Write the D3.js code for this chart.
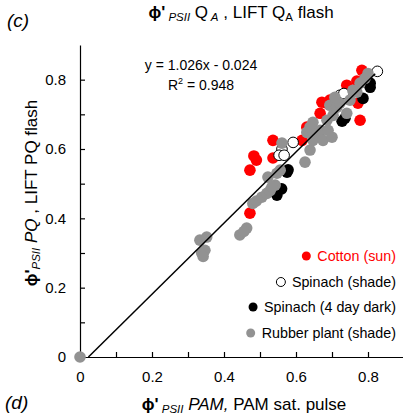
<!DOCTYPE html>
<html><head><meta charset="utf-8">
<script src="https://cdn.jsdelivr.net/npm/d3@7"></script>
<style>body{margin:0;background:#fff}svg{display:block;font-family:"Liberation Sans",Arial,sans-serif}</style>
</head><body>
<script>
const cottonX=[0.783,0.741,0.769,0.778,0.772,0.686,0.694,0.672,0.667,0.63,0.617,0.536,0.536,0.49,0.483,0.472,0.472];
const cottonY=[0.827,0.784,0.796,0.683,0.732,0.732,0.741,0.735,0.703,0.663,0.625,0.625,0.574,0.568,0.58,0.539,0.415];
const shadeX=[0.826,0.722,0.711,0.733,0.592,0.561,0.553,0.567];
const shadeY=[0.824,0.755,0.746,0.76,0.619,0.6,0.582,0.582];
const darkX=[0.806,0.806,0.786,0.736,0.728,0.578,0.575,0.56,0.547];
const darkY=[0.778,0.79,0.746,0.689,0.68,0.54,0.533,0.485,0.467];
const rubberX=[0,0.333,0.352,0.338,0.347,0.342,0.444,0.463,0.455,0.48,0.49,0.505,0.519,0.528,0.542,0.533,0.522,0.547,0.556,0.561,0.625,0.63,0.639,0.647,0.647,0.639,0.658,0.667,0.675,0.689,0.7,0.686,0.703,0.694,0.713,0.722,0.741,0.75,0.708,0.758,0.769,0.778,0.792,0.8];
const rubberY=[0,0.337,0.346,0.3,0.308,0.29,0.352,0.372,0.362,0.443,0.45,0.461,0.472,0.48,0.496,0.49,0.519,0.53,0.539,0.617,0.562,0.648,0.597,0.625,0.677,0.663,0.645,0.654,0.625,0.654,0.634,0.683,0.697,0.726,0.72,0.732,0.703,0.741,0.749,0.769,0.764,0.79,0.804,0.818];
const tickValues=[0,0.1,0.2,0.3,0.4,0.5,0.6,0.7,0.8];
const tickLabels=["0","","0.2","","0.4","","0.6","","0.8"];
const fitSlope=1.026, fitIntercept=-0.024, fitX=[0.0234,0.82];
const legendLabels=["Cotton (sun)","Spinach (shade)","Spinach (4 day dark)","Rubber plant (shade)"];

const W=403,H=414;
const svg=d3.select("body").append("svg").attr("width",W).attr("height",H);
const x=d3.scaleLinear().domain([0,0.9]).range([80,404]);
const y=d3.scaleLinear().domain([0,0.9]).range([357,45]);

// axes
const xAxis=d3.axisBottom(x).tickValues(tickValues).tickSizeInner(-5).tickSizeOuter(0).tickPadding(14).tickFormat((d,i)=>tickLabels[i]);
const gx=svg.append("g").attr("transform","translate(0,357)").call(xAxis);
const yAxis=d3.axisLeft(y).tickValues(tickValues).tickSizeInner(-5).tickSizeOuter(0).tickPadding(14).tickFormat((d,i)=>tickLabels[i]);
const gy=svg.append("g").attr("transform","translate(80,0)").call(yAxis);
[gx,gy].forEach(g=>{g.selectAll("text").attr("font-size",15).attr("fill","#000").attr("font-family","Liberation Sans, Arial, sans-serif");
 g.selectAll("line,path").attr("stroke","#000").attr("stroke-width",1.2);});

// points
const R=5.8;
function pts(xs,ys,fill,stroke){
  svg.append("g").selectAll("circle").data(xs.map((v,i)=>[v,ys[i]])).join("circle")
   .attr("cx",d=>x(d[0])).attr("cy",d=>y(d[1])).attr("r",stroke==="none"?R:R-0.5)
   .attr("fill",fill).attr("stroke",stroke).attr("stroke-width",stroke==="none"?0:1);
}
pts(cottonX,cottonY,"#ff0000","none");
pts(shadeX,shadeY,"#fff","#000");
pts(darkX,darkY,"#000","none");
pts(rubberX,rubberY,"#929292","none");

// fit line
svg.append("line").attr("x1",x(fitX[0])).attr("y1",y(fitSlope*fitX[0]+fitIntercept))
  .attr("x2",x(fitX[1])).attr("y2",y(fitSlope*fitX[1]+fitIntercept))
  .attr("stroke","#000").attr("stroke-width",1.5);

// equation
svg.append("text").attr("x",201).attr("y",70).attr("text-anchor","middle").attr("font-size",14).text("y = 1.026x - 0.024");
const r2=svg.append("text").attr("x",201).attr("y",90).attr("text-anchor","middle").attr("font-size",14);
r2.append("tspan").text("R");
r2.append("tspan").attr("font-size",9).attr("dy",-6).text("2");
r2.append("tspan").attr("dy",6).text(" = 0.948");

// legend
const legY=[256,282,307,333];
const legFill=["#ff0000","#fff","#000","#929292"];
const legStroke=["none","#000","none","none"];
const legColor=["#ff0000","#000","#000","#000"];
legendLabels.forEach((t,i)=>{
  const tx=svg.append("text").attr("x",396).attr("y",legY[i]+5).attr("text-anchor","end").attr("font-size",14.3).attr("fill",legColor[i]).text(t);
  const w=tx.node().getComputedTextLength();
  svg.append("circle").attr("cx",396-w-11).attr("cy",legY[i]).attr("r",4.5)
    .attr("fill",legFill[i]).attr("stroke",legStroke[i]).attr("stroke-width",1);
});

// title
const phi="\u03D5'";
const tt=svg.append("text").attr("x",241).attr("y",18).attr("text-anchor","middle").attr("font-size",17);
tt.append("tspan").attr("font-weight","bold").text(phi);
tt.append("tspan").attr("font-style","italic").attr("font-size",11.5).attr("dy",3).text(" PSII");
tt.append("tspan").attr("dy",-3).text(" Q");
tt.append("tspan").attr("font-style","italic").attr("font-size",11.5).attr("dy",3).text(" A");
tt.append("tspan").attr("dy",-3).text(" , LIFT Q");
tt.append("tspan").attr("font-size",11.5).attr("dy",3).text("A");
tt.append("tspan").attr("dy",-3).text(" flash");

// x label
const xl=svg.append("text").attr("x",244).attr("y",410).attr("text-anchor","middle").attr("font-size",17);
xl.append("tspan").attr("font-weight","bold").text(phi);
xl.append("tspan").attr("font-style","italic").attr("font-size",11.5).attr("dy",3).text(" PSII");
xl.append("tspan").attr("dy",-3).attr("font-style","italic").text(" PAM,");
xl.append("tspan").text("  PAM sat. pulse");

// y label
const yl=svg.append("text").attr("transform","translate(37,193) rotate(-90)").attr("text-anchor","middle").attr("font-size",17);
yl.append("tspan").attr("font-weight","bold").text(phi);
yl.append("tspan").attr("font-style","italic").attr("font-size",11.5).attr("dy",3).text("PSII");
yl.append("tspan").attr("dy",-3).attr("font-style","italic").text(" PQ");
yl.append("tspan").text(" , LIFT PQ flash");

// panel letters
svg.append("text").attr("x",7).attr("y",27).attr("font-size",19).attr("font-style","italic").text("(c)");
svg.append("text").attr("x",5).attr("y",409).attr("font-size",19).attr("font-style","italic").text("(d)");
</script>
</body></html>
